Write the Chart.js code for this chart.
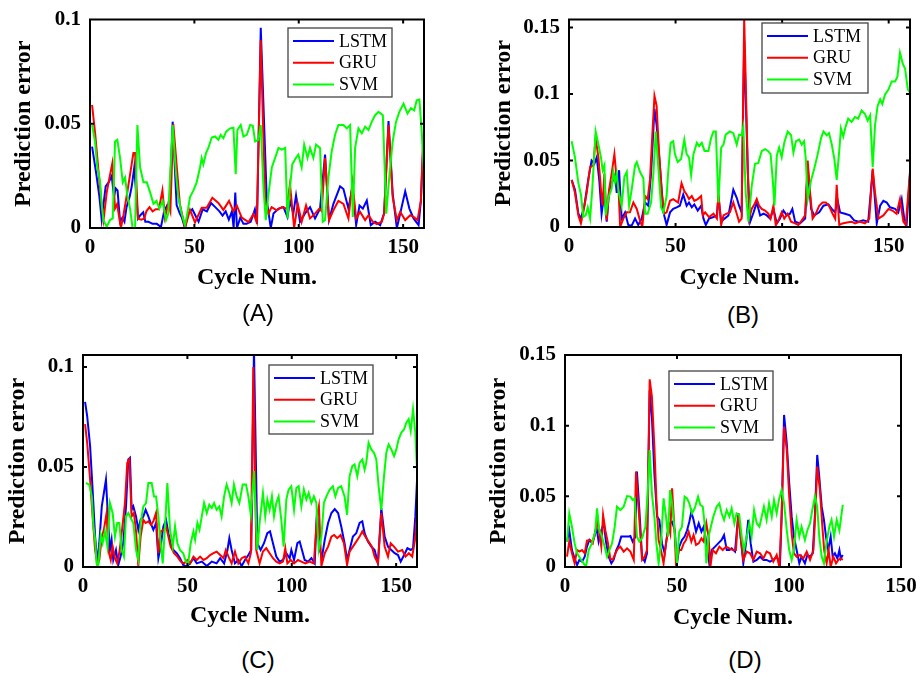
<!DOCTYPE html>
<html>
<head>
<meta charset="utf-8">
<script src="https://cdn.jsdelivr.net/npm/chart.js@4.4.1/dist/chart.umd.min.js"></script>
<style>
  body { margin: 0; width: 916px; height: 676px; overflow: hidden; background: #fff; position: relative; }
  canvas { position: absolute; }
  .tag { position: absolute; font: 24px "Liberation Sans", Arial, sans-serif; line-height: 1; transform: translate(-50%, -50%); color: #000; }
</style>
</head>
<body>
<script>
// ---- data: [cycle, prediction error] ----
const xTicks = [0, 50, 100, 150];
const yTicksSmall = [0, 0.05, 0.1];
const yTicksLarge = [0, 0.05, 0.1, 0.15];
const seriesNames = ['LSTM', 'GRU', 'SVM'];
const seriesColors = ['#0000ff', '#ff0000', '#00ff00'];

const aLstm = [[1,.039],[3,.026],[4.5,.015],[5.6,.004],[7.5,.02],[9,.022],[10.4,.025],[11.5,.015],[12.3,.019],[13.2,.018],[14.4,.003],[15.5,.005],[16.5,.003],[17.5,.01],[19,.015],[20,.02],[21.2,.029],[23,.0045],[24,.006],[25.5,.0075],[26.5,.003],[28,.003],[30,.002],[32,.002],[34,.0005],[35.5,.008],[37,.011],[38,.01],[39.6,.051],[41.5,.011],[43,.007],[44,.005],[45.5,0],[47,.007],[49,.009],[50.5,.006],[52,.003],[54,.009],[56,.008],[58,.012],[60,.01],[62,.008],[63.5,.006],[65,.008],[66.5,.004],[68,.008],[68.8,0],[69.6,.017],[70.4,0],[72,.005],[73.5,.002],[75,.002],[77,.003],[79,.009],[80,.002],[81.8,.096],[84.7,.013],[86.6,0],[87.9,.007],[90.3,.0093],[92.7,.01],[94.6,.0053],[95.8,.013],[97.4,.007],[98.7,.0156],[100.6,.003],[103,.007],[105.4,.01],[107.8,.0046],[110.2,.0093],[112.6,.0352],[114.5,.0038],[116.6,.0116],[119.8,.02],[121.4,.0187],[123.8,.0093],[125.7,.0195],[127.5,.0014],[129.1,.0108],[130.7,.0093],[132.6,.0132],[134.5,.0014],[136.6,.003],[139,.0014],[140.9,.007],[143,.0513],[145,.0164],[147,0],[148.6,.007],[151,.0176],[153,.0093],[155,.0046],[157.4,.0014],[158.5,.013],[159.7,.0415]];
const aGru = [[1,.059],[2.5,.045],[4,.028],[5.5,.012],[6.5,.004],[8,.017],[9.5,.025],[10.7,.031],[12,.0094],[13,.0115],[14.8,0],[16,.006],[18,.018],[20.8,.036],[21.6,.036],[23,.0045],[24.5,.004],[26,.0045],[27,.008],[28.5,.01],[30,.008],[31.5,.009],[33,.009],[34.7,.018],[35.9,.005],[37.5,.0117],[38.5,.008],[39.9,.0498],[43,.0118],[45.5,0],[47.9,.0087],[50.3,.0027],[53.5,.0097],[55.9,.0097],[58.6,.0145],[61.5,.012],[63.9,.0087],[66.6,.013],[68.7,.008],[70.3,.0108],[72.7,.005],[75.9,.0028],[78.3,.0067],[79.9,.0028],[81.8,.09],[83.9,.013],[85.5,.007],[87,.01],[89.5,.0085],[91.9,.01],[94.2,.0093],[95.8,.021],[97.8,0],[99.5,.0116],[101.4,.003],[103.5,.0108],[105.4,.0046],[107.8,.0069],[109.9,.0093],[111,.008],[112.6,.0336],[114.5,.0038],[116.6,.0085],[119,.013],[121.4,.0116],[123.8,.0046],[125.7,.0219],[127.5,.0046],[129.4,.0077],[131.8,.0038],[133.4,.0061],[135.5,.003],[137.4,.0019],[139.8,.003],[140.9,.007],[143,.0494],[145,.0148],[147,.0038],[148.6,.0077],[151,.0038],[153.4,.0061],[155,.0053],[156.9,.0038],[158.5,.013],[159.7,.0447]];
const aSvm = [[1,.0494],[2.4,.0415],[3.5,.029],[4.8,.0226],[5.6,.0116],[6.4,.0038],[8,.0006],[9.6,.0038],[10.9,.0046],[12,.0415],[13.1,.0423],[14.4,.0336],[15.7,.0219],[16.8,.0242],[17.9,.0156],[19.2,.0093],[20.4,0],[21.6,0],[22.7,.0494],[24,.029],[25.6,.0219],[27.2,.0219],[28.8,.0171],[30.4,.0116],[31.9,.013],[33.2,.0093],[34.8,.013],[36.4,.0038],[37.5,.0069],[39.6,.0494],[41.2,.0258],[42.3,.0148],[43.9,.0069],[45.5,.0014],[46.6,.0069],[47.9,.0148],[49.5,.0179],[51.1,.0219],[52.7,.029],[53.5,.0336],[54.3,.0305],[55.6,.036],[56.7,.0384],[58.3,.0434],[59.9,.0439],[61.5,.0423],[62.6,.0447],[63.9,.0431],[65.2,.0462],[67.1,.0478],[68.7,.0481],[69.8,.0258],[70.6,.047],[72.2,.0494],[73.5,.0439],[75.1,.0447],[76.7,.0494],[78,.049],[79.1,.0415],[80.7,.0423],[81.8,.0494],[83.1,.0195],[84.2,.0038],[85.5,.0164],[87.1,.029],[88.7,.0336],[90.3,.0384],[91.9,.0376],[93.5,.0384],[94.6,.0046],[95.8,.0195],[96.9,.0305],[98.6,.0336],[99.8,.0352],[101.4,.029],[102.6,.04],[104.2,.0336],[105.4,.0384],[107,.0336],[108.3,.04],[110.2,.0384],[111.5,.003],[112.6,.0038],[114.2,.0242],[115.8,.0368],[117.4,.0447],[119,.0494],[121.4,.0494],[123,.0478],[124.6,.0494],[125.9,.0053],[127,.0384],[128.6,.0478],[130.2,.0454],[131.8,.0486],[133.4,.047],[135,.051],[136.6,.0541],[138.2,.0557],[140.3,.0541],[141.9,.0069],[143.5,.0258],[145,.0415],[146.6,.051],[148.2,.0557],[150.2,.0596],[152.1,.0549],[153.7,.0575],[155.3,.0564],[156.5,.0612],[157.8,.0616],[158.9,.0462],[160,.0258]];

const bLstm = [[1.25,.0354],[2.8,.028],[4.4,.01],[5.6,.0063],[7.2,.016],[9,.0354],[10.6,.05],[11.9,.0475],[13,.0524],[14.2,.0354],[15.3,.01],[16.6,.0257],[17.7,.004],[18.8,.027],[20.3,.034],[21.6,.039],[22.4,.0257],[23.5,.0427],[24.7,.0063],[26.3,.011],[27.8,.0015],[29.4,.001],[31,.0063],[32.5,.0015],[34.1,.0063],[35.7,.0184],[37.2,.016],[38.5,.04],[40.1,.0888],[41.1,.0767],[42.7,.045],[44.3,.011],[45.8,.0015],[47.4,.011],[48.9,.0136],[50.5,.0148],[52,.016],[53.6,.0245],[55.2,.016],[56.3,.0184],[57.6,.0148],[58.8,.017],[60.4,.0124],[62,.016],[63.1,.0063],[64.2,.0015],[65.7,.0063],[67.8,.0075],[69.4,.0087],[70.1,.0233],[71.4,.004],[73,.0063],[74.8,.0087],[77.1,.028],[78.7,.022],[79.8,.016],[81,.011],[82.2,.14],[83.9,.04],[85,.004],[86.6,.011],[88.1,.0184],[89.7,.0087],[91.3,.01],[92.8,.0087],[94.4,.0063],[95.9,.0136],[97.5,.0027],[99,.0063],[100.6,.0124],[102.2,.0087],[103.7,.01],[104.8,.0136],[106.1,.004],[108.4,.0027],[110.8,.0063],[112,.045],[113.6,.0136],[115.1,.0087],[117.4,.011],[119.4,.016],[121.7,.017],[123.3,.0136],[124.9,.011],[125.9,.021],[127.2,.011],[129.5,.01],[131.8,.0087],[133.8,.005],[136,.004],[138,.005],[140.4,.004],[142.5,.0427],[144.4,.0027],[146,.016],[147.5,.0197],[149.1,.0184],[150.6,.0148],[153,.0136],[154.5,.011],[156.1,.021],[157.3,.0063],[158.4,.0015],[160,.04]];
const bGru = [[1.25,.0354],[2.8,.0257],[4.4,.0087],[5.6,.0027],[6.7,.011],[8.3,.0257],[9.9,.045],[11.4,.0463],[12.5,.067],[13.8,.0524],[15,.028],[15.8,.016],[16.6,.04],[17.7,.005],[18.8,.028],[20,.04],[21.3,.0548],[22.4,.0354],[23.2,.0306],[24,0],[25.5,.0063],[27.1,.011],[28.6,.011],[30.2,.0184],[31.8,.0136],[33.3,.005],[34.4,0],[35.7,.0233],[36.9,.021],[38,.0354],[39.1,.0694],[40.1,.0985],[41.1,.0912],[42.2,.0572],[43.5,.0257],[44.7,.01],[45.8,.011],[47.4,.0197],[48.9,.021],[51.2,.0184],[52.8,.033],[54.1,.027],[55.2,.0245],[56.3,.021],[57.6,.0233],[58.8,.0197],[60.4,.021],[62,.0233],[62.8,.0087],[63.9,.011],[65.7,.0075],[67.8,.01],[69.4,.0063],[70.1,.0257],[71.4,.0015],[72.5,.0087],[74,.01],[75.5,.011],[77.1,.0184],[78.7,.01],[79.8,.004],[81,.0063],[82.2,.157],[83.4,.0767],[84.5,.0063],[85.7,.0136],[87,.017],[88.1,.021],[89.2,.016],[90.4,.0136],[92,.0124],[93.5,.01],[94.6,.0063],[95.9,.016],[97,.0015],[98.6,.0063],[99.8,.011],[101,.0063],[102.6,.01],[104.2,.004],[106.1,.0027],[107.6,.0015],[109.2,.005],[110.8,.0087],[112,.05],[113.1,.0257],[114.3,.0063],[115.8,.01],[117.4,.016],[119,.0184],[120.5,.0184],[122,.016],[123.7,.01],[124.9,.0063],[125.6,.0318],[126.8,.0015],[128.3,.0027],[130.4,.0034],[132.6,.004],[134.2,.0027],[136.5,.004],[138.9,.0027],[140.9,.0063],[142.5,.044],[143.6,.0257],[145.2,.0063],[147.5,.0087],[149.9,.0136],[151.7,.0124],[153.7,.01],[155.3,.021],[156.9,.004],[158,.0015],[160,.0415]];
const bSvm = [[1.25,.0645],[2.8,.0524],[4.4,.033],[5.6,.0245],[6.7,.0075],[7.8,.0087],[8.8,.0148],[9.9,.0063],[10.9,.028],[12.5,.0718],[13.8,.062],[15,.0524],[15.8,.0427],[16.6,.0463],[17.2,.0087],[18.5,.022],[20,.029],[20.8,.0415],[21.6,.034],[22.4,.04],[23.2,.027],[24.7,.016],[26,.0378],[27.1,.0415],[28.2,.016],[29.4,.028],[31,.0463],[31.8,.0488],[33.3,.0415],[34.9,.0366],[35.7,.01],[36.9,.01],[38.5,.0184],[39.6,.04],[40.7,.0718],[41.9,.045],[43.2,.0148],[44.3,.011],[45.8,.0233],[46.6,.0427],[47.7,.0633],[48.9,.0645],[49.7,.0548],[51,.0488],[52.6,.0512],[54.1,.0657],[55.2,.0548],[56.3,.0524],[57.3,.039],[58.4,.0548],[60,.0633],[61.1,.0609],[62.3,.0633],[63.6,.0572],[65.4,.0572],[66.7,.067],[67.8,.0718],[68.9,.0718],[70.1,.0184],[71.4,.0597],[72.5,.062],[73.5,.0694],[75.5,.0718],[77.1,.0706],[78.7,.062],[79.8,.0694],[81,.069],[81.8,.0755],[82.9,.0257],[84.2,.004],[85.7,.0306],[87.3,.0475],[88.8,.048],[90.4,.057],[92,.0585],[93.5,.057],[94.6,.0548],[95.6,.0354],[96.4,.016],[97.5,.0536],[98.6,.0597],[99.8,.0524],[101,.0633],[102.6,.0718],[104.2,.069],[105.3,.056],[106.5,.0645],[108,.0657],[109.2,.062],[110.3,.0645],[111.1,.0512],[112,.0209],[113.6,.0354],[115.1,.044],[116.7,.0548],[118.3,.067],[119.4,.0718],[120.9,.069],[122,.0706],[123.3,.062],[124.5,.0512],[125.6,.0354],[126.8,.0572],[127.6,.0742],[128.7,.068],[129.8,.0755],[131,.0815],[132.6,.079],[134.2,.0827],[135.7,.0815],[137.3,.0876],[138.9,.085],[140.1,.08],[141.3,.084],[142.5,.045],[143.6,.0767],[144.8,.091],[146,.096],[147,.0924],[148.3,.0997],[149.9,.1033],[151.4,.1094],[153,.1094],[154.1,.113],[155.3,.131],[156.6,.1228],[157.7,.119],[159,.1033],[160,.101]];

const cLstm = [[1,.0826],[2,.0755],[3.4,.0605],[4.6,.0387],[5.8,.0152],[6.9,.0018],[7.8,.0119],[9,.0303],[10,.037],[11,.0437],[12.1,.022],[12.9,.0085],[13.7,.0136],[14.5,.0035],[15.8,.0085],[16.9,.001],[18,.0052],[19.3,.0119],[20.6,.0303],[21.7,.0538],[22.5,.0546],[23.3,.0286],[24.1,.0303],[25.4,.0253],[26.5,.0186],[27.6,.0236],[28.9,.0253],[30,.0286],[31.3,.0253],[32.4,.022],[33.7,.0186],[35,.022],[36.1,.0044],[37.2,.0102],[38.5,.0203],[39.8,.0236],[40.9,.0169],[42,.0119],[43.3,.0085],[44.9,.0069],[46.5,.0044],[48,.001],[49.6,.0002],[51.3,.0018],[52.9,.0044],[54.5,.0018],[56.9,.0027],[59.3,.0005],[61.7,.0027],[64,.0018],[65.7,.0044],[67.6,.0018],[69.2,.0085],[70.1,.0144],[71.2,.0085],[72.8,.0018],[74.4,.0035],[76,.0005],[77.6,.0035],[79.2,.006],[80.6,.0085],[81.9,.109],[83.5,.0119],[85.1,.0085],[86.7,.0119],[88.3,.0169],[89.6,.0178],[91,.0119],[92.6,.0052],[94.2,.0027],[95.8,.0035],[97.4,.0069],[99,.0044],[99.8,.0085],[101.1,.0035],[102.7,.0119],[103.8,.0127],[104.9,.0085],[106.2,.0035],[107.8,.0027],[109.4,.0044],[111,.0018],[112.1,.0286],[113.4,.0085],[114.5,.0052],[115.8,.0136],[117.4,.022],[119,.027],[120.6,.029],[122.2,.027],[123.7,.0203],[125.3,.0119],[126.5,.0035],[127.7,.0085],[129.3,.0152],[130.9,.0169],[132.5,.022],[133.8,.0228],[134.9,.0169],[136.5,.0127],[138.1,.0102],[139.7,.0085],[141.3,.0018],[142.9,.0295],[144.5,.0152],[146.1,.0102],[147.7,.0085],[149.3,.0069],[150.9,.006],[152.2,.0027],[153.8,.006],[155.4,.0094],[157,.0085],[158.1,.0094],[159.2,.0253],[160,.043]];
const cGru = [[1,.0714],[2,.0621],[3.4,.0437],[4.6,.0253],[5.8,.0085],[6.9,.001],[7.8,.0035],[9,.0152],[10,.0186],[11.3,.027],[12.1,.0085],[13.3,.0035],[14.2,.0102],[15.3,.0044],[16.4,.0018],[17.6,.0085],[18.9,.0203],[20.1,.032],[21.2,.0521],[22.2,.0538],[23.3,.0253],[24.4,.027],[25.4,.0178],[26.5,.0005],[27.6,.0152],[28.9,.0236],[30,.022],[31.3,.0228],[32.6,.0211],[33.7,.0228],[35,.027],[36.1,.0069],[37.2,.0178],[38.5,.0186],[39.8,.0203],[40.9,.0152],[42,.0102],[43.6,.0069],[45.2,.0052],[46.8,.0027],[48.4,.0018],[50,.0035],[51.3,.0018],[52.9,.0052],[54.5,.0035],[56.1,.0052],[57.7,.0035],[59.3,.0044],[60.9,.006],[62.5,.0069],[64,.0077],[65.7,.006],[67.3,.0044],[68.4,.0085],[69.7,.0052],[71.2,.0018],[72.8,.0077],[74.4,.0018],[76,.0044],[77.6,.0052],[79.2,.0018],[80.4,.0069],[81.6,.1],[83,.0085],[84.6,.0018],[86.2,.0077],[87.8,.0094],[89.4,.0069],[91,.0044],[92.6,.0027],[94.2,.0018],[95.8,.0027],[96.9,.0094],[97.9,.0018],[99.5,.0035],[101.1,.0018],[103,.0035],[104.6,.0027],[106.5,.0018],[108.6,.0027],[110.6,.0018],[112.1,.0253],[113,.0303],[114.2,.0005],[115.8,.0069],[117.4,.0102],[119,.0152],[120.3,.016],[121.8,.0144],[123.4,.016],[125,.0119],[126.5,.001],[127.7,.0077],[129.3,.0102],[130.9,.0127],[132.5,.0152],[133.8,.0178],[135.2,.0152],[136.8,.0127],[138.4,.0102],[139.7,.0052],[141.3,.0018],[142.9,.027],[144.5,.0102],[146.1,.0052],[147.4,.0119],[149,.0102],[150.9,.0077],[152.9,.0085],[154.5,.0052],[156.1,.0069],[157.7,.0052],[159.3,.0152],[160,.027]];
const cSvm = [[1.4,.042],[3,.0412],[4.2,.0353],[5,.0203],[5.8,.0136],[6.5,.0018],[7.3,.0005],[8.5,.0161],[9.4,.0119],[10.5,.0178],[11.7,.0102],[12.9,.032],[14.2,.027],[15.3,.0152],[16.4,.022],[17.4,.022],[18.5,.0085],[19.6,.0052],[20.6,.0253],[21.7,.027],[22.9,.0245],[24.1,.022],[25.4,.0085],[26.5,.0035],[27.6,.022],[28.9,.0303],[30.2,.032],[31.3,.042],[32.9,.042],[34,.0353],[35,.0353],[36.1,.0253],[36.9,.0152],[38.2,.0018],[39.3,.0203],[40.4,.042],[41.7,.0186],[43,.0102],[44.1,.0203],[45.2,.0119],[46.5,.0085],[48,.0069],[49.3,.0027],[50.4,.0018],[51.6,.0119],[52.9,.0178],[53.7,.0136],[54.8,.022],[55.8,.0186],[56.9,.0253],[58,.032],[59.3,.027],[60.5,.0312],[61.7,.0295],[62.8,.032],[64,.0286],[65.3,.0303],[66.4,.0253],[67.6,.0353],[68.8,.0412],[70.1,.037],[71.2,.032],[72.3,.0412],[73.6,.0353],[74.9,.032],[76.5,.0412],[78.1,.0412],[79.2,.0353],[80.4,.0261],[81.9,.048],[83.5,.0085],[84.6,.022],[86.2,.037],[87.3,.0253],[88.3,.0337],[89.4,.0286],[90.5,.0353],[91.5,.0253],[92.6,.032],[93.7,.0353],[95,.0236],[96.1,.0102],[97.4,.0337],[98.5,.0387],[99.8,.0404],[101.1,.0286],[102.2,.0395],[103.3,.0404],[104.6,.0303],[105.8,.0387],[107,.0337],[108.1,.037],[109.4,.032],[110.6,.0353],[111.8,.032],[112.9,.0085],[114.2,.0152],[115.4,.032],[116.6,.0353],[118.2,.0387],[119.7,.0404],[120.9,.0353],[122.2,.0395],[123.7,.0404],[125.3,.0353],[126.5,.0261],[127.7,.0454],[129,.0504],[130.1,.0513],[131.4,.0454],[132.5,.0521],[133.8,.0538],[134.9,.0487],[135.7,.0521],[136.8,.0621],[138.1,.0588],[139.4,.0571],[140.5,.0538],[141.6,.0404],[142.9,.0286],[144.2,.0454],[145.3,.0571],[146.4,.0613],[147.7,.0588],[149,.0554],[150.1,.0588],[151.2,.0638],[152.5,.0672],[153.8,.0688],[154.9,.0722],[156,.0739],[157,.068],[158.1,.0789],[159.2,.0672],[160,.0487]];

const dLstm = [[0.9,.018],[1.9,.026],[3.1,.012],[4.3,.006],[5.4,.0014],[6.4,.005],[7.6,.0038],[8.8,.0073],[9.8,.0144],[10.9,.0191],[12,.0172],[13.1,.0215],[14,.0285],[15,.018],[16.2,.026],[17.3,.0309],[18.3,.018],[19.5,.0073],[20.7,.0026],[21.7,.005],[22.9,.012],[24,.0156],[25.1,.0215],[26.6,.0215],[28.1,.0215],[29.2,.022],[30.2,.018],[31.4,.0215],[32.1,.0675],[33.2,.0403],[34.4,.0073],[35.6,.0038],[36.6,.0097],[37.8,.125],[38.8,.106],[39.9,.0663],[41.1,.0356],[42.1,.0333],[43.3,.0167],[44.5,.0097],[45.5,.0215],[46.6,.0309],[47.8,.032],[49,.026],[50,.0026],[51,.0144],[52.2,.0191],[53.4,.0215],[54.5,.026],[55.5,.032],[56.4,.039],[57.4,.0333],[58.5,.025],[59.7,.0309],[60.9,.025],[61.9,.0285],[63.2,.0167],[64.4,.0026],[65.5,.012],[67,.0144],[68.4,.0167],[69.9,.0191],[71,.0226],[72.2,.012],[73.4,.012],[74.4,.0132],[75.9,.0109],[77.4,.038],[78.4,.0215],[79.6,.0026],[80.8,.0167],[81.8,.0333],[82.9,.0167],[84.1,.0038],[85.6,.005],[87.1,.0073],[88.6,.005],[90,.005],[91.5,.0038],[93,.005],[94.5,.0073],[96,.0026],[96.7,.0356],[97.8,.1076],[99,.0875],[100.1,.0592],[101.2,.0356],[102.2,.0215],[103.4,.012],[104.6,.0026],[105.6,.0073],[107.1,.0026],[108.2,.0085],[109.4,.0073],[110.6,.0097],[111.6,.038],[112.6,.0793],[113.5,.0639],[114.6,.0427],[115.6,.0333],[116.5,.0215],[117.5,.012],[118.6,.0215],[119.5,.0073],[120.5,.0097],[121.6,.006],[122.5,.012],[123.1,.006],[124,.0085]];
const dGru = [[0.9,.0073],[1.9,.018],[3.1,.0097],[4.3,.0026],[5.4,.012],[6.4,.0109],[7.6,.012],[8.8,.0097],[9.8,.0186],[11.3,.0191],[12.4,.0167],[13.5,.025],[14.6,.0333],[15.5,.0215],[16.2,.0144],[17,.0368],[18,.026],[19.2,.0167],[20.2,.006],[21.3,.005],[22.5,.0097],[23.7,.0132],[24.7,.0144],[26.2,.0109],[27.7,.0132],[29.2,.0109],[30.7,.005],[31.7,.0675],[32.9,.0403],[34.4,.005],[35.6,.0073],[36.6,.012],[37.8,.1328],[38.8,.1205],[39.9,.0852],[40.8,.0474],[41.8,.0191],[43,.0109],[44,.0026],[45.1,.0167],[46.3,.0285],[47,.0238],[47.8,.0557],[49,.0226],[49.6,.0002],[50.7,.012],[51.9,.012],[53,.0167],[54,.0191],[55.2,.025],[56.4,.018],[57.4,.0226],[58.5,.0156],[59.7,.0167],[60.9,.0203],[61.9,.018],[63.1,.0309],[64.1,.0215],[64.9,0],[65.9,.012],[67.4,.0097],[68.9,.0144],[70.4,.012],[71.9,.0144],[73.4,.0132],[74.9,.012],[76.3,.012],[77.4,.038],[78.4,.0215],[79.6,.005],[81.1,.0109],[82.6,.0097],[84.1,.005],[85.6,.0109],[87.1,.0097],[88.6,.006],[90,.0109],[91.5,.0097],[93,.0038],[94.5,.0085],[95.7,0],[96.7,.0356],[97.8,.0993],[99,.0828],[100.1,.0498],[101.2,.0238],[102.2,.0097],[103.4,.0073],[104.9,.0085],[106.4,.006],[107.9,.0109],[109.4,.005],[110.9,.012],[111.8,.0403],[112.6,.071],[113.8,.0545],[114.9,.0285],[115.7,.012],[116.8,.0026],[117.7,.012],[118.6,0],[119.8,.0073],[121,.0026],[122,.005],[123.1,.006],[124,.005]];
const dSvm = [[0.9,.018],[1.9,.038],[3.1,.0285],[4.3,.0167],[5.4,.0097],[6.8,.006],[8.3,.0026],[9.4,.0002],[10.6,.012],[12,.0167],[13.5,.025],[14.3,.0415],[15.3,.026],[16.5,.0215],[17.7,.0144],[18.8,.0073],[19.8,.012],[21,.0167],[22.2,.0285],[23.2,.0427],[24.7,.0403],[26.2,.0427],[27.7,.0502],[29.2,.0498],[30.2,.0474],[31.1,.0486],[32.1,.0215],[33.2,.018],[34.4,.0203],[35.9,.0285],[36.9,.0521],[37.8,.0828],[38.8,.0521],[39.9,.0356],[40.8,.0167],[41.8,.0026],[42.9,.018],[44,.0486],[45.1,.0356],[46,.0215],[46.9,.0545],[47.8,.045],[48.8,.0285],[50,.0026],[51,.025],[52.2,.0285],[53.4,.0498],[54.5,.0486],[55.5,.045],[56.7,.038],[57.9,.0415],[59.4,.0498],[60.4,.0439],[61.5,.0427],[62.4,.0297],[63.1,.0026],[64.1,.0215],[65.3,.0297],[66.2,.0356],[67.7,.0427],[68.9,.045],[69.9,.038],[71,.0333],[72.2,.0403],[73.4,.0356],[74.4,.0415],[75.6,.0309],[76.6,.038],[77.8,.0368],[78.9,.0215],[79.9,.012],[81.1,.0215],[82.3,.0309],[83.3,.0215],[84.4,.0403],[85.6,.0309],[86.8,.0285],[87.8,.0356],[88.8,.0427],[90,.0333],[91.1,.045],[92.3,.0356],[93.3,.0474],[94.5,.038],[95.5,.0474],[96.7,.0545],[97.8,.045],[99,.026],[100.1,.012],[101.2,.005],[102.2,.012],[103.4,.0333],[104.6,.0215],[105.6,.0285],[107.1,.0191],[108.2,.026],[109.4,.0309],[110.4,.0403],[111.6,.0498],[112.6,.0427],[113.5,.0215],[114.6,.0073],[115.6,.0026],[116.8,.018],[118,.0285],[119,.0333],[120.1,.0215],[121.3,.0333],[122.5,.026],[124,.0439]];

// ---- layout of the four panels (page pixels) ----
const panels = [
  { tag: '(A)', series: [aLstm, aGru, aSvm], xMax: 160, yMax: 0.1,   yTicks: yTicksSmall,
    box: [0, 0, 458, 300],     plot: [90, 16, 424, 228],   legend: [288, 28, 104, 69], yTitlePad: 12, xTitlePad: 10, tagAt: [258, 313] },
  { tag: '(B)', series: [bLstm, bGru, bSvm], xMax: 160, yMax: 0.156, yTicks: yTicksLarge,
    box: [460, 0, 456, 300],   plot: [569, 13, 910, 227],  legend: [762, 23, 106, 70], yTitlePad: 32, xTitlePad: 10, tagAt: [743, 315] },
  { tag: '(C)', series: [cLstm, cGru, cSvm], xMax: 160, yMax: 0.106, yTicks: yTicksSmall,
    box: [0, 330, 458, 310],   plot: [83, 355, 417, 567],  legend: [269, 365, 104, 69], yTitlePad: 6, xTitlePad: 12, tagAt: [258, 660] },
  { tag: '(D)', series: [dLstm, dGru, dSvm], xMax: 150, yMax: 0.15,  yTicks: yTicksLarge,
    box: [460, 330, 470, 310], plot: [565, 355, 901, 567], legend: [669, 371, 104, 69], yTitlePad: 27, xTitlePad: 10, tagAt: [745, 660] }
];

const serif = '"Liberation Serif", "Times New Roman", serif';
const tickFont = { family: serif, size: 21, weight: 'bold', lineHeight: 1 };
const titleFont = { family: serif, size: 24, weight: 'bold', lineHeight: 1 };

// box, inward ticks and legend drawn on top of the lines
function framePlugin(p) {
  return {
    id: 'frame',
    afterDatasetsDraw(chart) {
      const { ctx, chartArea: a, scales: { x, y } } = chart;
      const lx = p.legend[0] - p.box[0], ly = p.legend[1] - p.box[1];
      ctx.save();
      ctx.strokeStyle = '#000';
      ctx.lineWidth = 2;
      ctx.beginPath();
      x.ticks.forEach(t => {
        const px = x.getPixelForValue(t.value);
        if (px < a.left + 2 || px > a.right - 2) return;
        ctx.moveTo(px, a.bottom); ctx.lineTo(px, a.bottom - 4);
        ctx.moveTo(px, a.top); ctx.lineTo(px, a.top + 4);
      });
      y.ticks.forEach(t => {
        const py = y.getPixelForValue(t.value);
        if (py > a.bottom - 2 || py < a.top + 2) return;
        ctx.moveTo(a.left, py); ctx.lineTo(a.left + 4, py);
        ctx.moveTo(a.right, py); ctx.lineTo(a.right - 4, py);
      });
      ctx.stroke();
      ctx.strokeRect(a.left, a.top, a.right - a.left, a.bottom - a.top);

      // legend
      ctx.fillStyle = '#fff';
      ctx.fillRect(lx, ly, p.legend[2], p.legend[3]);
      ctx.strokeStyle = '#444';
      ctx.lineWidth = 1.3;
      ctx.strokeRect(lx, ly, p.legend[2], p.legend[3]);
      ctx.font = '18px ' + serif;
      ctx.textBaseline = 'middle';
      seriesNames.forEach((name, i) => {
        const ry = ly + 13 + i * 21.7;
        ctx.strokeStyle = seriesColors[i];
        ctx.lineWidth = 2;
        ctx.beginPath();
        ctx.moveTo(lx + 5, ry); ctx.lineTo(lx + 46, ry);
        ctx.stroke();
        ctx.fillStyle = '#000';
        ctx.fillText(name, lx + 51, ry + 1);
      });
      ctx.restore();
    }
  };
}

panels.forEach(p => {
  const [bx, by, bw, bh] = p.box;
  const [pl, pt, pr, pb] = p.plot;
  const canvas = document.createElement('canvas');
  canvas.width = bw; canvas.height = bh;
  canvas.style.left = bx + 'px'; canvas.style.top = by + 'px';
  document.body.appendChild(canvas);

  const tag = document.createElement('div');
  tag.className = 'tag';
  tag.textContent = p.tag;
  tag.style.left = p.tagAt[0] + 'px'; tag.style.top = p.tagAt[1] + 'px';
  document.body.appendChild(tag);

  new Chart(canvas, {
    type: 'line',
    data: {
      datasets: p.series.map((s, i) => ({
        label: seriesNames[i],
        data: s.map(([x, y]) => ({ x, y })),
        borderColor: seriesColors[i],
        borderWidth: 2,
        pointRadius: 0,
        tension: 0,
        fill: false,
        order: 3 - i
      }))
    },
    options: {
      responsive: false,
      animation: false,
      devicePixelRatio: 1,
      layout: { padding: { left: 0, top: pt - by, right: bx + bw - pr, bottom: 0 } },
      plugins: { legend: { display: false }, tooltip: { enabled: false } },
      scales: {
        x: {
          type: 'linear', min: 0, max: p.xMax,
          afterBuildTicks: s => { s.ticks = xTicks.filter(v => v <= p.xMax).map(v => ({ value: v })); },
          afterFit: s => { s.height = by + bh - pb; },
          grid: { display: false, drawTicks: false },
          border: { display: false },
          ticks: { color: '#000', font: tickFont, padding: 9, maxRotation: 0, autoSkip: false, callback: v => String(v) },
          title: { display: true, text: 'Cycle Num.', color: '#000', font: titleFont, padding: { top: 0, bottom: p.xTitlePad } }
        },
        y: {
          type: 'linear', min: 0, max: p.yMax,
          afterBuildTicks: s => { s.ticks = p.yTicks.map(v => ({ value: v })); },
          afterFit: s => { s.width = pl - bx; },
          grid: { display: false, drawTicks: false },
          border: { display: false },
          ticks: { color: '#000', font: tickFont, padding: 9, autoSkip: false, callback: v => String(v) },
          title: { display: true, text: 'Prediction error', color: '#000', font: titleFont, padding: { top: p.yTitlePad, bottom: 0 } }
        }
      }
    },
    plugins: [framePlugin(p)]
  });
});
</script>
</body>
</html>
